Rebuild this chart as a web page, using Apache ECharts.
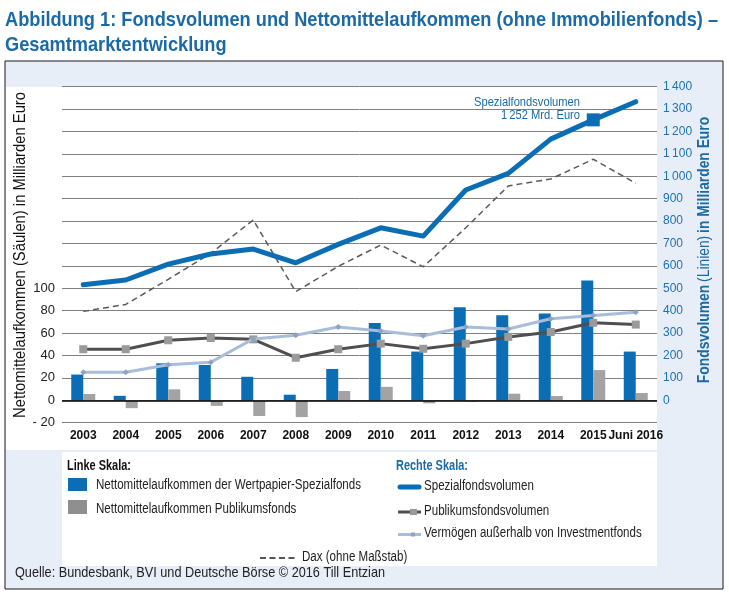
<!DOCTYPE html>
<html>
<head>
<meta charset="utf-8">
<script src="https://cdn.jsdelivr.net/npm/echarts@6/dist/echarts.min.js"></script>
<style>html,body{margin:0;padding:0;background:#fff}#c{width:729px;height:597px}</style>
</head>
<body>
<div id="c"></div>
<script>
var categories = ['2003','2004','2005','2006','2007','2008','2009','2010','2011','2012','2013','2014','2015','Juni 2016'];
// Linke Skala (Säulen), Mrd. Euro
var spezialNetto   = [23, 4, 33, 31.5, 21, 5, 28, 69, 43.5, 83, 76, 77.5, 107, 43.5];
var publikumNetto  = [5.6, -7, 9.8, -5, -14, -15, 8.3, 12, -2.7, -1.2, 5.9, 3.8, 27, 6.5];
// Rechte Skala (Linien), Mrd. Euro
var spezialVolumen  = [516, 537, 608, 653, 675, 614, 696, 770, 733, 939, 1013, 1166, 1252, 1333];
var publikumVolumen = [228, 228, 268, 278, 272, 190, 228, 253, 230, 253, 283, 305, 346, 338];
var vermoegen       = [125, 125, 159, 170, 274, 290, 327, 309, 288, 327, 318, 364, 379, 393];
var dax             = [397, 428, 540, 656, 805, 485, 598, 693, 596, 770, 957, 988, 1076, 969];
var leftTicks  = [-20, 0, 20, 40, 60, 80, 100];
var rightTicks = [0,100,200,300,400,500,600,700,800,900,1000,1100,1200,1300,1400];

var BLUE = '#0b6db4', GRAYBAR = '#a3a3a3', DARK = '#4f4f4f', LIGHT = '#a9bcd9', TXTBLUE = '#1b6aa6';
var FAM = '"Liberation Sans", Arial, sans-serif';

function fmtThousand(v){ var s = String(v); return s.length > 3 ? s.slice(0, s.length-3) + '\u2009' + s.slice(-3) : s; }

var mctx = document.createElement('canvas').getContext('2d');
function fitScale(text, font, target){ mctx.font = font; return target / mctx.measureText(text).width; }

var titleFont = 'bold 21px ' + FAM;
var title1 = 'Abbildung 1: Fondsvolumen und Nettomittelaufkommen (ohne Immobilienfonds) \u2013';
var sTitle = fitScale(title1, titleFont, 713);
var legendFont = '14px ' + FAM;
var sLeg = fitScale('Nettomittelaufkommen der Wertpapier-Spezialfonds', legendFont, 265);
var leftNameFont = '16px ' + FAM;
var leftName = 'Nettomittelaufkommen (Säulen) in Milliarden Euro';
var sLeftName = fitScale(leftName, leftNameFont, 326);
var sRightName = fitScale('Fondsvolumen (Linien) in Milliarden Euro', 'bold 16px ' + FAM, 272);
var srcFont = '14.5px ' + FAM;
var srcText = 'Quelle: Bundesbank, BVI und Deutsche Börse © 2016 Till Entzian';
var sSrc = fitScale(srcText, srcFont, 370);
var annFont = '13.5px ' + FAM;
var sAnn = fitScale('Spezialfondsvolumen', annFont, 106);
var headFont = 'bold 14.5px ' + FAM;
var sHead = fitScale('Linke Skala:', headFont, 64);

function T(x, y, text, font, fill, sc, extra){
  var st = {text: text, font: font, fill: fill, textVerticalAlign: 'middle'};
  if (extra) for (var k in extra) st[k] = extra[k];
  return {type: 'text', x: x, y: y, scaleX: sc, style: st};
}

var chart = echarts.init(document.getElementById('c'), null, {renderer: 'canvas'});

var graphics = [
  {type:'rect', z:-10, shape:{x:5, y:61, width:718, height:528}, style:{fill:'#e8eef7', stroke:'#1a1a1a', lineWidth:1}},
  {type:'rect', z:-9, shape:{x:6, y:87, width:651, height:363}, style:{fill:'#ffffff'}},
  {type:'rect', z:-9, shape:{x:62, y:452, width:595, height:114}, style:{fill:'#ffffff'}},
  T(5, 20, title1, titleFont, TXTBLUE, sTitle),
  T(5, 45, 'Gesamtmarktentwicklung', titleFont, TXTBLUE, sTitle),
  {type:'text', x:21, y:255, rotation:Math.PI/2, scaleX:sLeftName, style:{text:leftName, font:leftNameFont, fill:'#111', textAlign:'center', textVerticalAlign:'middle'}},
  {type:'text', x:705, y:250, rotation:Math.PI/2, scaleX:sRightName, style:{text:'{b|Fondsvolumen} {n|(Linien)} {b|in Milliarden Euro}', textAlign:'center', textVerticalAlign:'middle',
      rich:{b:{font:'bold 16px ' + FAM, fill:TXTBLUE}, n:{font:'16px ' + FAM, fill:TXTBLUE}}}},
  T(580, 102, 'Spezialfondsvolumen', annFont, TXTBLUE, sAnn, {textAlign:'right'}),
  T(580, 115.5, fmtThousand(spezialVolumen[12]) + ' Mrd. Euro', annFont, TXTBLUE, sAnn, {textAlign:'right'}),
  // legend
  T(67, 466, 'Linke Skala:', headFont, '#111', sHead),
  {type:'rect', shape:{x:68, y:478, width:19, height:13}, style:{fill:BLUE}},
  T(96, 485, 'Nettomittelaufkommen der Wertpapier-Spezialfonds', legendFont, '#222', sLeg),
  {type:'rect', shape:{x:68, y:500, width:19, height:14}, style:{fill:'#8f8f8f'}},
  T(96, 509, 'Nettomittelaufkommen Publikumsfonds', legendFont, '#222', sLeg),
  T(396, 466, 'Rechte Skala:', headFont, TXTBLUE, sHead),
  {type:'line', shape:{x1:400, y1:487, x2:419, y2:487}, style:{stroke:BLUE, lineWidth:5, lineCap:'round'}},
  T(424, 486.5, 'Spezialfondsvolumen', legendFont, '#222', sLeg),
  {type:'line', shape:{x1:398, y1:512, x2:421, y2:512}, style:{stroke:DARK, lineWidth:3}},
  {type:'rect', shape:{x:410, y:509, width:7, height:6}, style:{fill:'#9a9a9a'}},
  T(424, 511, 'Publikumsfondsvolumen', legendFont, '#222', sLeg),
  {type:'line', shape:{x1:398, y1:534.5, x2:421, y2:534.5}, style:{stroke:LIGHT, lineWidth:3}},
  {type:'rect', shape:{x:411, y:532.5, width:4, height:4}, style:{fill:'#8ea3c4'}},
  T(424, 533.5, 'Vermögen außerhalb von Investmentfonds', legendFont, '#222', sLeg),
  {type:'line', shape:{x1:260, y1:558, x2:296, y2:558}, style:{stroke:'#555', lineWidth:2, lineDash:[6,3.5]}},
  T(302, 557, 'Dax (ohne Maßstab)', legendFont, '#222', sLeg),
  T(15, 573, srcText, srcFont, '#222', sSrc)
];

var option = {
  animation: false,
  backgroundColor: '#ffffff',
  grid: {left: 62, right: 72, top: 86.7, bottom: 174.3, containLabel: false},
  xAxis: {
    type: 'category', data: categories, boundaryGap: true,
    axisLine: {show: false}, axisTick: {show: false},
    axisLabel: {color: '#111', fontWeight: 'bold', fontSize: 12, fontFamily: FAM, margin: 7, interval: 0}
  },
  yAxis: [
    {type: 'value', min: -20, max: 280, interval: 20, position: 'left',
     axisLine: {show: false}, axisTick: {show: false}, splitLine: {show: false},
     axisLabel: {margin: 7, color: '#222', fontSize: 13, fontFamily: FAM,
       formatter: function(v){ return leftTicks.indexOf(v) < 0 ? '' : (v < 0 ? '- ' + Math.abs(v) : String(v)); }}},
    {type: 'value', min: -100, max: 1400, interval: 100, position: 'right',
     axisLine: {show: false}, axisTick: {show: false},
     splitLine: {show: true, lineStyle: {color: '#808080', width: 1}},
     axisLabel: {margin: 6, color: '#1c72b5', fontSize: 12, fontFamily: FAM,
       formatter: function(v){ return rightTicks.indexOf(v) < 0 ? '' : fmtThousand(v); }}}
  ],
  series: [
    {name: 'Nettomittelaufkommen der Wertpapier-Spezialfonds', type: 'bar', yAxisIndex: 0, data: spezialNetto,
     barWidth: 12, barGap: '0%', itemStyle: {color: BLUE},
     markLine: {silent: true, symbol: ['none','none'], label: {show: false},
       lineStyle: {color: '#000', width: 1.5, type: 'solid'}, data: [{yAxis: 0}]}},
    {name: 'Nettomittelaufkommen Publikumsfonds', type: 'bar', yAxisIndex: 0, data: publikumNetto,
     barWidth: 12, barGap: '0%', itemStyle: {color: GRAYBAR}},
    {name: 'Dax (ohne Maßstab)', type: 'line', yAxisIndex: 1, data: dax, showSymbol: false, z: 3,
     lineStyle: {color: '#5a5a5a', width: 1.5, type: [6, 4]}},
    {name: 'Publikumsfondsvolumen', type: 'line', yAxisIndex: 1, data: publikumVolumen, z: 4,
     symbol: 'rect', symbolSize: 8, itemStyle: {color: '#9a9a9a'},
     lineStyle: {color: DARK, width: 3}},
    {name: 'Vermögen außerhalb von Investmentfonds', type: 'line', yAxisIndex: 1, data: vermoegen, z: 5,
     symbol: 'diamond', symbolSize: 6, itemStyle: {color: '#8ea3c4'},
     lineStyle: {color: LIGHT, width: 3}},
    {name: 'Spezialfondsvolumen', type: 'line', yAxisIndex: 1, data: spezialVolumen, showSymbol: false, z: 6,
     lineStyle: {color: BLUE, width: 5, cap: 'round', join: 'round'},
     markPoint: {silent: true, symbol: 'rect', symbolSize: 13, itemStyle: {color: BLUE}, label: {show: false},
       data: [{coord: [categories[12], spezialVolumen[12]]}]}}
  ],
  graphic: {elements: graphics}
};
chart.setOption(option);
</script>
</body>
</html>
